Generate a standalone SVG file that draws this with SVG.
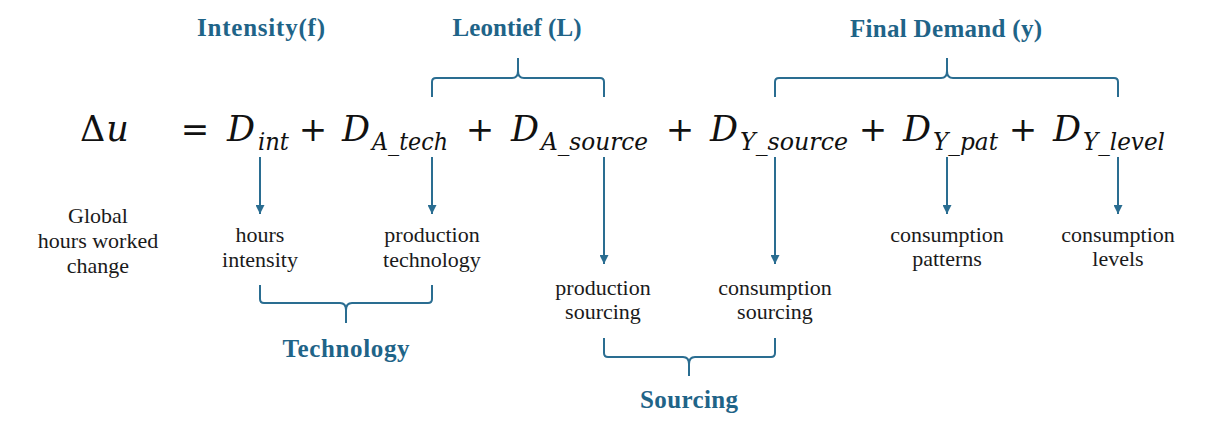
<svg xmlns="http://www.w3.org/2000/svg" width="1214" height="424" viewBox="0 0 1214 424">
  <style>
    .math { font-family: "DejaVu Serif", "Liberation Serif", serif; fill: #111; }
    .mi { font-style: italic; }
    .big { font-size: 35px; }
    .sub { font-size: 25px; }
    .op { font-size: 34px; text-anchor: middle; }
    .body { font-family: "Liberation Serif", "DejaVu Serif", serif; font-size: 22px; fill: #1a1a1a; text-anchor: middle; }
    .head { font-family: "Liberation Serif", "DejaVu Serif", serif; font-size: 25px; font-weight: bold; fill: #1f6488; text-anchor: middle; }
    .brace { fill: none; stroke: #2a6d91; stroke-width: 2; stroke-linejoin: round; }
    .arrow { stroke: #2a6d91; stroke-width: 2; marker-end: url(#ah); }
  </style>
  <defs>
    <marker id="ah" markerWidth="9" markerHeight="9" refX="9" refY="4.5" orient="auto" markerUnits="userSpaceOnUse">
      <path d="M0,0 L9,4.5 L0,9 z" fill="#2a6d91"/>
    </marker>
  </defs>
  <rect width="1214" height="424" fill="#ffffff"/>

  <!-- group headings above the equation -->
  <g id="label-intensity"><text class="head" x="261" y="36" textLength="128">Intensity(f)</text></g>
  <g id="label-leontief"><text class="head" x="517" y="36" textLength="129">Leontief (L)</text></g>
  <g id="label-final-demand"><text class="head" x="946" y="37" textLength="192">Final Demand (y)</text></g>

  <!-- decomposition equation -->
  <g id="equation" class="math">
    <text class="big" x="80" y="141">Δ<tspan class="mi" dx="1">u</tspan></text>
    <text class="op" x="195" y="141">=</text>
    <text class="big mi" x="227" y="141">D</text><text class="sub mi" x="258" y="150" textLength="31" lengthAdjust="spacingAndGlyphs">int</text>
    <text class="op" x="313" y="141">+</text>
    <text class="big mi" x="342" y="141">D</text><text class="sub mi" x="372" y="150" textLength="76" lengthAdjust="spacingAndGlyphs">A_tech</text>
    <text class="op" x="480" y="141">+</text>
    <text class="big mi" x="511" y="141">D</text><text class="sub mi" x="541" y="150" textLength="107" lengthAdjust="spacingAndGlyphs">A_source</text>
    <text class="op" x="680" y="141">+</text>
    <text class="big mi" x="710" y="141">D</text><text class="sub mi" x="740" y="150" textLength="108" lengthAdjust="spacingAndGlyphs">Y_source</text>
    <text class="op" x="873" y="141">+</text>
    <text class="big mi" x="903" y="141">D</text><text class="sub mi" x="933" y="150" textLength="65" lengthAdjust="spacingAndGlyphs">Y_pat</text>
    <text class="op" x="1023" y="141">+</text>
    <text class="big mi" x="1053" y="141">D</text><text class="sub mi" x="1083" y="150" textLength="82" lengthAdjust="spacingAndGlyphs">Y_level</text>
  </g>

  <!-- term descriptions -->
  <g id="node-global">
    <text class="body" x="98" y="223">Global</text>
    <text class="body" x="98" y="248">hours worked</text>
    <text class="body" x="98" y="273">change</text>
  </g>
  <g id="node-hours-intensity">
    <text class="body" x="260" y="242">hours</text>
    <text class="body" x="260" y="267">intensity</text>
  </g>
  <g id="node-production-technology">
    <text class="body" x="432" y="242">production</text>
    <text class="body" x="432" y="267">technology</text>
  </g>
  <g id="node-production-sourcing">
    <text class="body" x="603" y="295">production</text>
    <text class="body" x="603" y="319">sourcing</text>
  </g>
  <g id="node-consumption-sourcing">
    <text class="body" x="775" y="295">consumption</text>
    <text class="body" x="775" y="319">sourcing</text>
  </g>
  <g id="node-consumption-patterns">
    <text class="body" x="947" y="242">consumption</text>
    <text class="body" x="947" y="266">patterns</text>
  </g>
  <g id="node-consumption-levels">
    <text class="body" x="1118" y="242">consumption</text>
    <text class="body" x="1118" y="266">levels</text>
  </g>

  <!-- group headings below -->
  <g id="label-technology"><text class="head" x="346" y="357" textLength="127">Technology</text></g>
  <g id="label-sourcing"><text class="head" x="689" y="408" textLength="98">Sourcing</text></g>

  <!-- connectors: arrows and braces -->
  <g id="connectors">
    <line class="arrow" x1="260" y1="157" x2="260" y2="214"/>
    <line class="arrow" x1="432" y1="157" x2="432" y2="214"/>
    <line class="arrow" x1="604" y1="157" x2="604" y2="264"/>
    <line class="arrow" x1="775" y1="157" x2="775" y2="264"/>
    <line class="arrow" x1="947" y1="157" x2="947" y2="214"/>
    <line class="arrow" x1="1118" y1="157" x2="1118" y2="214"/>

    <path class="brace" d="M432,97 V82 Q432,78 436,78 H512 Q518,78 518,71 V58 M518,58 V71 Q518,78 524,78 H600 Q604,78 604,82 V97"/>
    <path class="brace" d="M775,97 V82 Q775,78 779,78 H941 Q947,78 947,71 V58 M947,58 V71 Q947,78 953,78 H1114 Q1118,78 1118,82 V97"/>
    <path class="brace" d="M260,285 V299 Q260,303 264,303 H340 Q346,303 346,310 V323 M346,323 V310 Q346,303 352,303 H428 Q432,303 432,299 V285"/>
    <path class="brace" d="M604,338 V353 Q604,357 608,357 H683 Q689,357 689,364 V376 M689,376 V364 Q689,357 695,357 H771 Q775,357 775,353 V338"/>
  </g>
</svg>
